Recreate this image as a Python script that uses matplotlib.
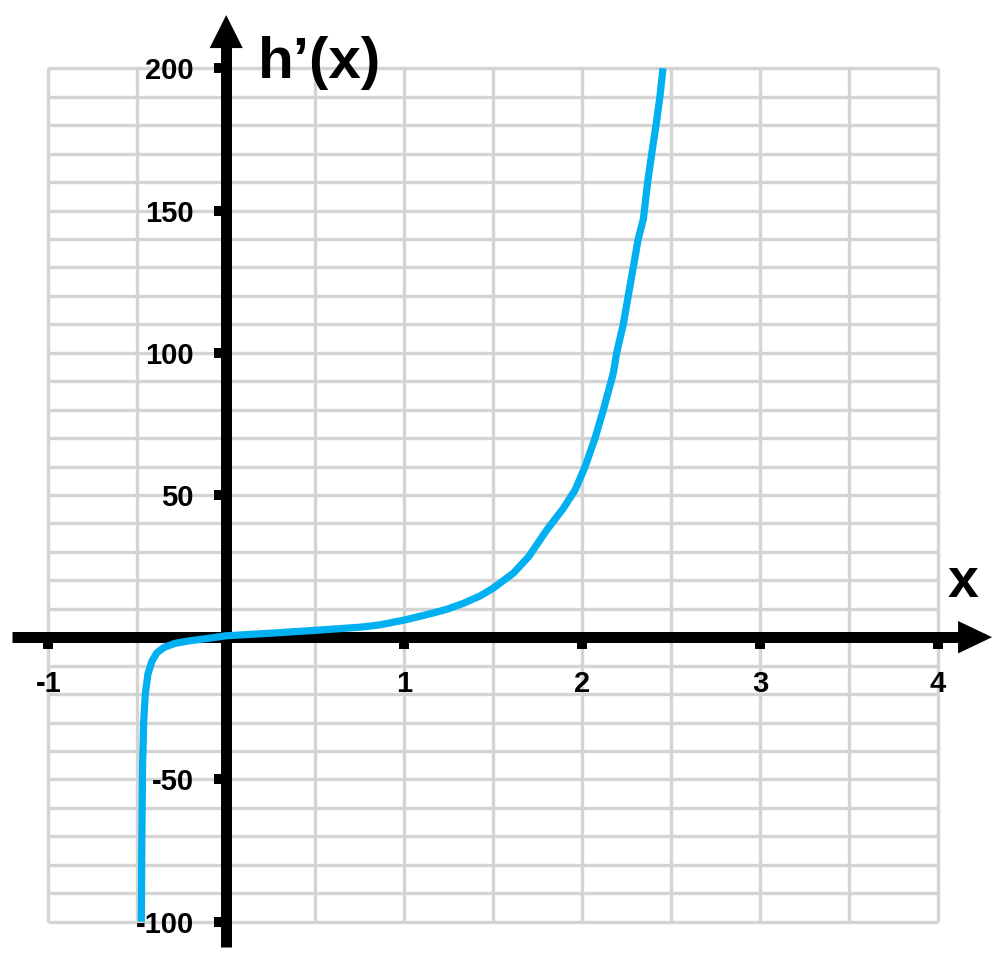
import numpy as np
import matplotlib
matplotlib.use("Agg")
import matplotlib.pyplot as plt

plt.rcParams["font.family"] = ["Liberation Sans", "DejaVu Sans"]
plt.rcParams["font.weight"] = "bold"

# curve
x_vals = [-0.477, -0.474, -0.470, -0.464, -0.455, -0.440, -0.418, -0.390, -0.350,
          -0.290, -0.210, -0.100, 0.0, 0.25, 0.5, 0.75, 0.86, 1.0, 1.145, 1.24,
          1.333, 1.427, 1.5, 1.614, 1.70, 1.802, 1.895, 1.961, 2.017, 2.073,
          2.12, 2.176, 2.195, 2.232, 2.260, 2.288, 2.316, 2.345, 2.369, 2.392,
          2.416, 2.438, 2.455]
y_vals = [-100, -70, -45, -30, -20, -13, -8.5, -5.5, -3.6,
          -2.2, -1.3, -0.4, 0.5, 1.4, 2.4, 3.5, 4.3, 6.0, 8.2, 9.8,
          11.9, 14.5, 17.2, 22.5, 28.3, 37.7, 45.3, 51.7, 59.9, 69.9,
          79.9, 92.8, 100, 110, 120, 130, 140, 147, 160, 170,
          180, 190, 200]

x_ticks = [-1, 1, 2, 3, 4]
x_tick_labels = ["-1", "1", "2", "3", "4"]
y_ticks = [-100, -50, 50, 100, 150, 200]
y_tick_labels = ["-100", "-50", "50", "100", "150", "200"]

x_grid = np.arange(-1, 4.01, 0.5)
y_grid = np.arange(-100, 201, 10)

CURVE_COLOR = "#00B0F0"
GRID_COLOR = "#D4D4D4"

# view limits (axes fill the whole figure)
X_LO, X_HI = -1.2715, 4.3496
Y_LO, Y_HI = -118.4, 224.0

# axis line extents and arrowheads
XAXIS_START, XAXIS_HEAD, XAXIS_TIP, XHEAD_HALF = -1.204, 4.114, 4.305, 5.7
YAXIS_START, YAXIS_HEAD, YAXIS_TIP, YHEAD_HALF = -108.9, 207.1, 218.7, 0.093


def main():
    fig = plt.figure(figsize=(10, 9.74), dpi=100)
    ax = fig.add_axes([0, 0, 1, 1])
    ax.set_xlim(X_LO, X_HI)
    ax.set_ylim(Y_LO, Y_HI)

    # grid only inside the plotting box
    ax.vlines(x_grid, y_grid[0], y_grid[-1], color=GRID_COLOR, linewidth=2.4, zorder=1)
    ax.hlines(y_grid, x_grid[0], x_grid[-1], color=GRID_COLOR, linewidth=2.4, zorder=1)

    # axes through the origin
    for side in ["top", "right"]:
        ax.spines[side].set_visible(False)
    ax.spines["bottom"].set_position(("data", 0))
    ax.spines["left"].set_position(("data", 0))
    ax.spines["bottom"].set_bounds(XAXIS_START, XAXIS_HEAD + 0.02)
    ax.spines["left"].set_bounds(YAXIS_START, YAXIS_HEAD + 1)
    for side in ["bottom", "left"]:
        ax.spines[side].set_linewidth(7.9)
        ax.spines[side].set_capstyle("butt")
        ax.spines[side].set_zorder(3)

    ax.fill([XAXIS_HEAD, XAXIS_TIP, XAXIS_HEAD], [XHEAD_HALF, 0, -XHEAD_HALF],
            color="black", zorder=3, linewidth=0)
    ax.fill([-YHEAD_HALF, 0, YHEAD_HALF], [YAXIS_HEAD, YAXIS_TIP, YAXIS_HEAD],
            color="black", zorder=3, linewidth=0)

    ax.set_xticks(x_ticks)
    ax.set_xticklabels(x_tick_labels)
    ax.set_yticks(y_ticks)
    ax.set_yticklabels(y_tick_labels)
    ax.tick_params(axis="both", direction="out", length=8.3, width=7.2,
                   color="black", labelsize=21)
    ax.tick_params(axis="x", pad=15)
    ax.tick_params(axis="y", pad=15)
    for lbl in ax.get_xticklabels() + ax.get_yticklabels():
        lbl.set_fontweight("bold")

    ax.plot(x_vals, y_vals, color=CURVE_COLOR, linewidth=5.2, zorder=5,
            solid_capstyle="butt", solid_joinstyle="round")

    ax.text(0.179, 202, "h\u2019(x)", fontsize=42, fontweight="bold",
            ha="left", va="center", zorder=6)
    ax.text(4.14, 14.1, "x", fontsize=40, fontweight="bold",
            ha="center", va="baseline", zorder=6)

    fig.savefig("out.png", dpi=100)
    plt.close(fig)


if __name__ == "__main__":
    main()
